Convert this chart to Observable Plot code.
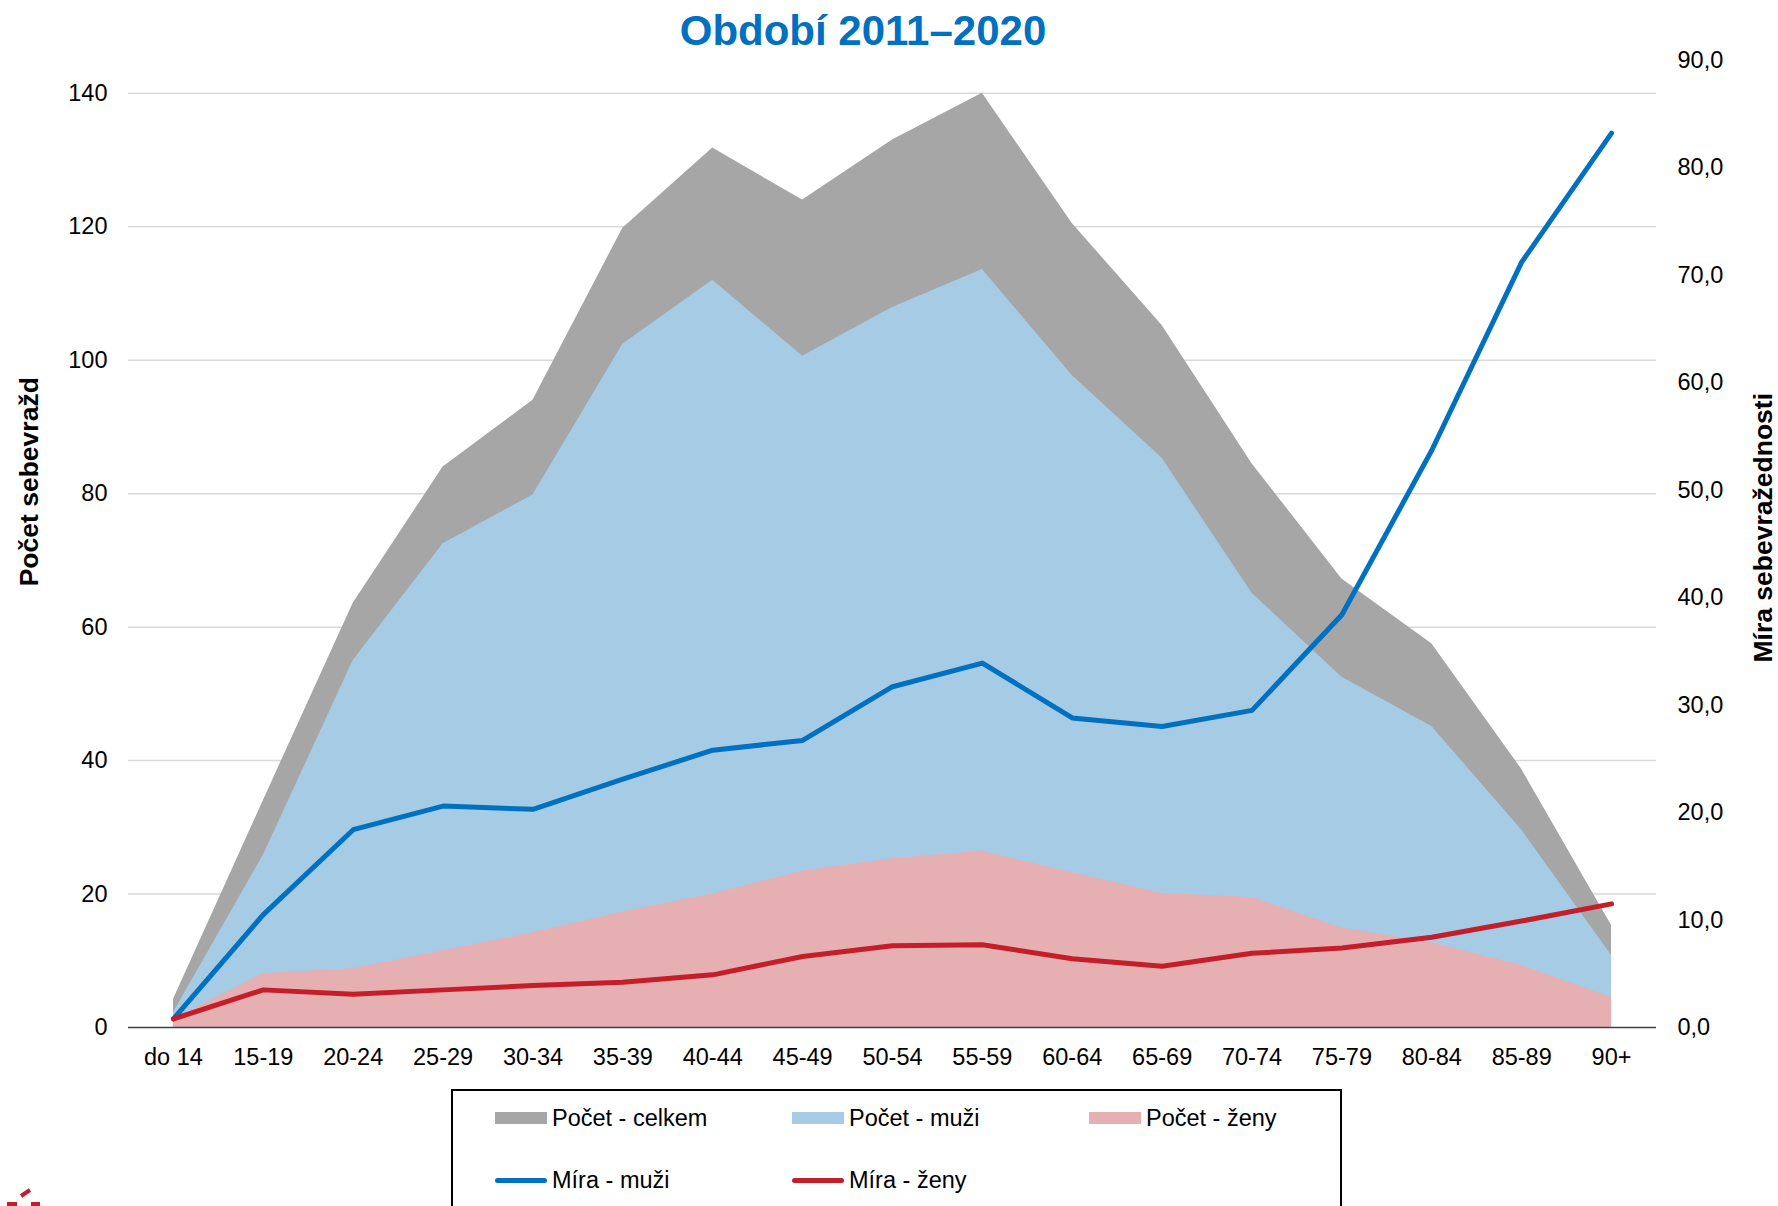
<!DOCTYPE html>
<html><head><meta charset="utf-8">
<script src="https://cdn.jsdelivr.net/npm/d3@7"></script>
<script src="https://cdn.jsdelivr.net/npm/@observablehq/plot@0.6"></script>
<style>
body{margin:0;background:#fff;font-family:"Liberation Sans",Arial,sans-serif;}
#wrap{position:relative;width:1778px;height:1206px;overflow:hidden;background:#fff;}
#title{width:1726px;text-align:center;height:45px;padding-top:8px;line-height:45px;font-size:42px;font-weight:bold;color:#0070C0;}
#legend{position:absolute;left:451px;top:1089px;width:887px;height:125px;border:2px solid #000;}
.item{position:absolute;display:flex;align-items:center;height:30px;font-size:23.5px;color:#000;white-space:nowrap;}
.sw{width:52px;height:12px;margin-right:5px;}
.ln{width:52px;height:5px;border-radius:3px;margin-right:5px;}
#logo{position:absolute;left:0;top:1186px;}
</style></head>
<body><div id="wrap">
<div id="title">Období 2011–2020</div>
<div id="chart"></div>
<div id="legend"></div>
<svg id="logo" width="50" height="20"><path d="M21 10 L30 4" stroke="#C41E2A" stroke-width="4"/><rect x="7" y="16" width="10" height="6" fill="#C41E2A"/><rect x="31" y="16" width="9" height="6" fill="#C41E2A"/></svg>
</div>
<script>
const ages = ["do 14","15-19","20-24","25-29","30-34","35-39","40-44","45-49","50-54","55-59","60-64","65-69","70-74","75-79","80-84","85-89","90+"];
const pocetCelkem = [4.2, 34.0, 63.6, 84.0, 94.0, 119.8, 131.8, 124.0, 133.0, 140.0, 120.5, 105.2, 84.5, 67.2, 57.5, 38.7, 15.3];
const pocetMuzi   = [2.2, 25.8, 55.0, 72.5, 79.8, 102.4, 112.0, 100.6, 107.9, 113.6, 97.7, 85.3, 65.1, 52.5, 45.1, 29.6, 10.8];
const pocetZeny   = [1.2, 8.1, 8.8, 11.5, 14.2, 17.3, 20.0, 23.4, 25.3, 26.4, 23.2, 20.1, 19.5, 14.9, 12.7, 9.3, 4.5];
const miraMuzi    = [0.8, 10.5, 18.4, 20.6, 20.3, 23.1, 25.8, 26.7, 31.7, 33.9, 28.8, 28.0, 29.5, 38.4, 53.7, 71.2, 83.2];
const miraZeny    = [0.8, 3.5, 3.1, 3.5, 3.9, 4.2, 4.9, 6.6, 7.6, 7.7, 6.4, 5.7, 6.9, 7.4, 8.4, 9.9, 11.5];
const leftTicks  = [0, 20, 40, 60, 80, 100, 120, 140];
const rightTicks = [0, 10, 20, 30, 40, 50, 60, 70, 80, 90];
const leftMax = 145, rightMax = 90;
const k = leftMax / rightMax;

const colors = {celkem:"#A6A6A6", muzi:"#A6CBE5", zeny:"#E6AFB2", lineM:"#0070C0", lineZ:"#C41E2A"};

const data = ages.map((a,i)=>({age:a, celkem:pocetCelkem[i], muzi:pocetMuzi[i], zeny:pocetZeny[i], mm:miraMuzi[i], mz:miraZeny[i]}));
const font = '"Liberation Sans", Arial, sans-serif';

const chart = Plot.plot({
  width:1778, height:1032,
  marginTop:6.5, marginBottom:58, marginLeft:128, marginRight:122,
  style:{fontFamily:font, fontSize:"23.5px", color:"#000", background:"#fff", overflow:"visible"},
  x:{type:"point", domain:ages, padding:0.5, round:false},
  y:{domain:[0,leftMax]},
  marks:[
    Plot.ruleY(leftTicks.filter(d=>d>0), {stroke:"#D9D9D9", strokeWidth:1.5}),
    Plot.areaY(data,{x:"age", y:"celkem", fill:colors.celkem}),
    Plot.areaY(data,{x:"age", y:"muzi", fill:colors.muzi}),
    Plot.areaY(data,{x:"age", y:"zeny", fill:colors.zeny}),
    Plot.ruleY([0],{stroke:"#404040", strokeWidth:1.5}),
    Plot.line(data,{x:"age", y:d=>d.mm*k, stroke:colors.lineM, strokeWidth:5, strokeLinecap:"round", strokeLinejoin:"round"}),
    Plot.line(data,{x:"age", y:d=>d.mz*k, stroke:colors.lineZ, strokeWidth:5, strokeLinecap:"round", strokeLinejoin:"round"}),
    Plot.axisX({tickSize:0, tickPadding:21, fontSize:23.5, label:null}),
    Plot.axisY(leftTicks,{anchor:"left", tickSize:0, tickPadding:21, fontSize:23.5, label:null}),
    Plot.axisY(rightTicks,{anchor:"right", y:d=>d*k, tickSize:0, tickPadding:21, fontSize:23.5, label:null,
      tickFormat:d=>d.toFixed(1).replace(".",",")}),
    Plot.text(["Počet sebevražd"],{frameAnchor:"left", textAnchor:"middle", rotate:-90, dx:-99, dy:-62, fontWeight:"bold", fontSize:26.5, fill:"#000"}),
    Plot.text(["Míra sebevražednosti"],{frameAnchor:"right", textAnchor:"middle", rotate:-90, dx:107, dy:-16, fontWeight:"bold", fontSize:26.5, fill:"#000"})
  ]
});
document.getElementById("chart").appendChild(chart);

const legendItems = [
  {label:"Počet - celkem", type:"sw", color:colors.celkem, left:42, top:12},
  {label:"Počet - muži", type:"sw", color:colors.muzi, left:339, top:12},
  {label:"Počet - ženy", type:"sw", color:colors.zeny, left:636, top:12},
  {label:"Míra - muži", type:"ln", color:colors.lineM, left:42, top:74},
  {label:"Míra - ženy", type:"ln", color:colors.lineZ, left:339, top:74}
];
const leg = document.getElementById("legend");
for (const it of legendItems) {
  const d = document.createElement("div");
  d.className = "item";
  d.style.left = it.left + "px";
  d.style.top = it.top + "px";
  const s = document.createElement("span");
  s.className = it.type;
  s.style.background = it.color;
  const t = document.createElement("span");
  t.textContent = it.label;
  d.appendChild(s); d.appendChild(t);
  leg.appendChild(d);
}
</script>
</body></html>
